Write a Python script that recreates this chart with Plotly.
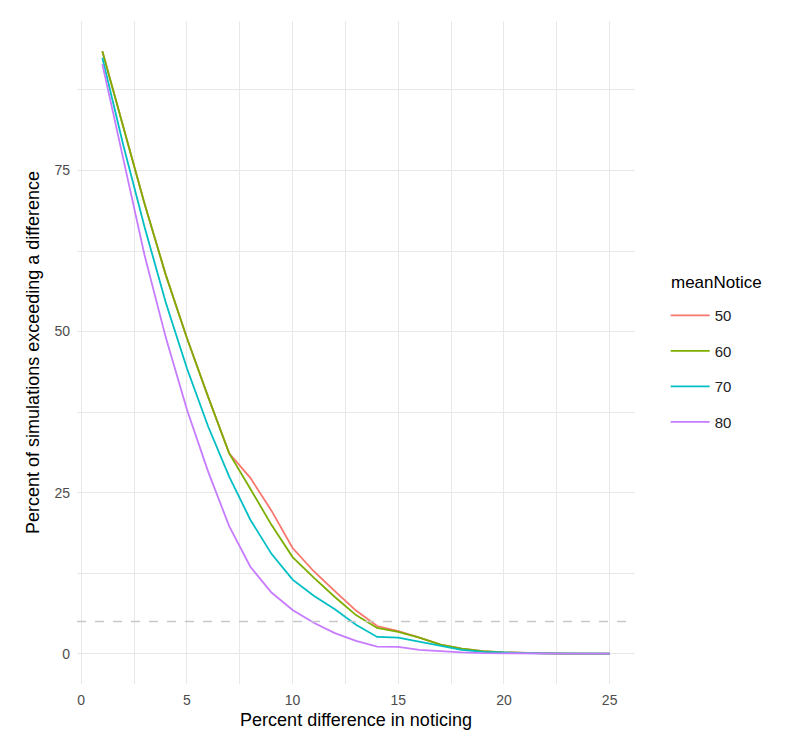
import plotly.graph_objects as go

pct_diff = list(range(1, 26))

notice_50 = [93.5, 81.5, 69.8, 58.8, 49.0, 39.9, 31.1, 27.3, 22.2, 16.4, 12.8, 9.7, 6.7,
             4.3, 3.5, 2.5, 1.4, 0.8, 0.4, 0.2, 0.1, 0.05, 0.02, 0.01, 0.0]
notice_60 = [93.5, 81.5, 69.8, 58.8, 49.0, 39.9, 31.1, 25.6, 20.0, 15.0, 11.8, 8.8, 6.0,
             4.0, 3.4, 2.5, 1.4, 0.8, 0.4, 0.2, 0.1, 0.05, 0.02, 0.01, 0.0]
notice_70 = [92.5, 78.8, 66.2, 54.5, 44.3, 35.3, 27.5, 20.8, 15.5, 11.5, 9.0, 6.9, 4.5,
             2.6, 2.5, 1.9, 1.2, 0.6, 0.3, 0.15, 0.08, 0.04, 0.02, 0.0, 0.0]
notice_80 = [91.5, 76.8, 61.8, 49.1, 37.9, 28.3, 19.8, 13.5, 9.5, 6.8, 4.8, 3.2, 2.0,
             1.1, 1.05, 0.6, 0.35, 0.2, 0.1, 0.05, 0.03, 0.01, 0.0, 0.0, 0.0]

series_names = ["50", "60", "70", "80"]
series_values = [notice_50, notice_60, notice_70, notice_80]
series_colors = ["#F8766D", "#7CAE00", "#00BFC4", "#C77CFF"]
legend_title = "meanNotice"

threshold = 5
x_ticks = [0, 5, 10, 15, 20, 25]
y_ticks = [0, 25, 50, 75]

FONT = "Liberation Sans, Arial, Helvetica, sans-serif"

fig = go.Figure()
for i, (name, vals, col) in enumerate(zip(series_names, series_values, series_colors)):
    fig.add_trace(go.Scatter(
        x=pct_diff, y=vals, mode="lines", name=name,
        line=dict(color=col, width=1.8),
        legendgroup="g" + name,
    ))

fig.add_hline(y=threshold, line=dict(color="#C8C8C8", width=1.6, dash="dash"), layer="above")

fig.add_annotation(
    text=legend_title, xref="paper", yref="paper", x=1.061, y=0.605,
    xanchor="left", yanchor="middle", showarrow=False,
    font=dict(size=17, color="black", family=FONT),
)

grid = "#E8E8E8"
fig.update_layout(
    width=800, height=751,
    paper_bgcolor="white", plot_bgcolor="white",
    margin=dict(l=69, r=173, t=13, b=75),
    font=dict(family=FONT, color="#4D4D4D", size=14),
    showlegend=True,
    legend=dict(
        font=dict(size=15, color="#222222"),
        x=1.055, xanchor="left", y=0.5805, yanchor="top",
        tracegroupgap=13, itemwidth=39,
        bgcolor="rgba(0,0,0,0)",
    ),
    xaxis=dict(
        range=[-0.2, 26.2], tickvals=x_ticks, ticktext=[str(v) for v in x_ticks],
        showgrid=True, gridcolor=grid, gridwidth=1.1, zeroline=False, showline=False,
        ticks="", ticklabelstandoff=6, automargin=False,
        minor=dict(dtick=2.5, tick0=0, showgrid=True, gridcolor=grid, gridwidth=0.6),
        title=dict(text="Percent difference in noticing", font=dict(size=18, color="black"), standoff=6),
        tickfont=dict(size=14, color="#4D4D4D"),
    ),
    yaxis=dict(
        range=[-4.7, 98.2], tickvals=y_ticks, ticktext=[str(v) for v in y_ticks],
        showgrid=True, gridcolor=grid, gridwidth=1.1, zeroline=False, showline=False,
        ticks="", ticklabelstandoff=6, automargin=False,
        minor=dict(dtick=12.5, tick0=0, showgrid=True, gridcolor=grid, gridwidth=0.6),
        title=dict(text="Percent of simulations exceeding a difference", font=dict(size=18, color="black"), standoff=10),
        tickfont=dict(size=14, color="#4D4D4D"),
    ),
)

fig.write_html("out.html")
